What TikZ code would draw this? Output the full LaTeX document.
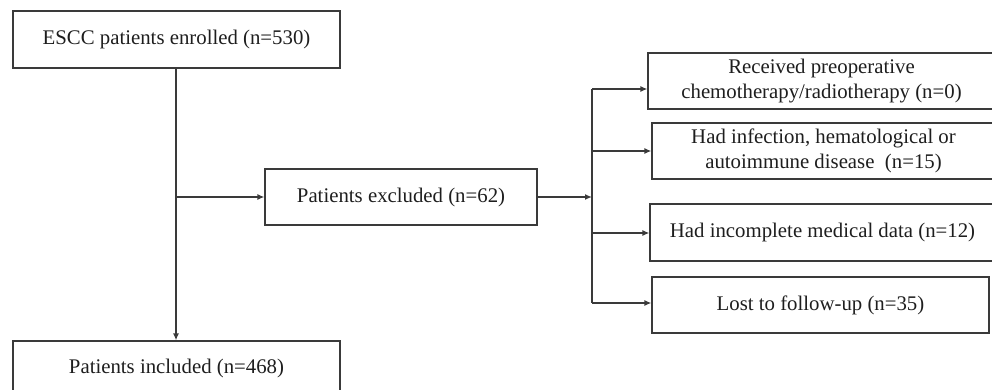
\documentclass[tikz,border=0pt]{standalone}
\usepackage{fontspec}
\setmainfont{Liberation Serif}
\usetikzlibrary{arrows.meta}
\definecolor{linec}{HTML}{3A3A3A}
\definecolor{textc}{HTML}{1E1E1E}
\tikzset{
  box/.style={draw=linec, line width=1.3pt, rectangle, inner sep=0pt, align=center,
    text=textc, font=\fontsize{20.8}{25}\selectfont},
  conn/.style={draw=linec, line width=1.3pt},
  arr/.style={conn, -{Latex[length=7pt,width=6pt]}}
}
\begin{document}
\begin{tikzpicture}[x=1pt,y=-1pt]
\useasboundingbox (0,0) rectangle (992,390);
\clip (0,0) rectangle (992,390);
\node[box, minimum width=327pt, minimum height=57pt] (enr) at (176.5,39.5) {ESCC patients enrolled (n=530)};
\node[box, minimum width=327pt, minimum height=54pt] (inc) at (176.5,368) {Patients included (n=468)};
\node[box, minimum width=272pt, minimum height=56pt] (exc) at (401,197) {Patients excluded (n=62)};
\node[box, minimum width=347pt, minimum height=56pt] (r1) at (821.5,81) {Received preoperative\\chemotherapy/radiotherapy (n=0)};
\node[box, minimum width=343pt, minimum height=56pt] (r2) at (823.5,151) {Had infection, hematological or\\autoimmune disease\ \ (n=15)};
\node[box, minimum width=345pt, minimum height=57pt] (r3) at (822.5,232.5) {Had incomplete medical data (n=12)};
\node[box, minimum width=337pt, minimum height=56pt] (r4) at (820.5,305) {Lost to follow-up (n=35)};
\coordinate (b1) at (176,197);
\coordinate (jn) at (592,197);
\coordinate (ttop) at (592,89);
\coordinate (tbot) at (592,303);
\draw[arr] (enr.south -| b1) -- (inc.north -| b1);
\draw[arr] (b1) -- (exc.west);
\draw[arr] (exc.east) -- (jn);
\draw[conn] (ttop) -- (tbot);
\draw[arr] (ttop) -- (ttop -| r1.west);
\draw[arr] (ttop |- r2.west) -- (r2.west);
\draw[arr] (ttop |- 0,233) -- (r3.west |- 0,233);
\draw[arr] (tbot) -- (tbot -| r4.west);
\end{tikzpicture}
\end{document}
